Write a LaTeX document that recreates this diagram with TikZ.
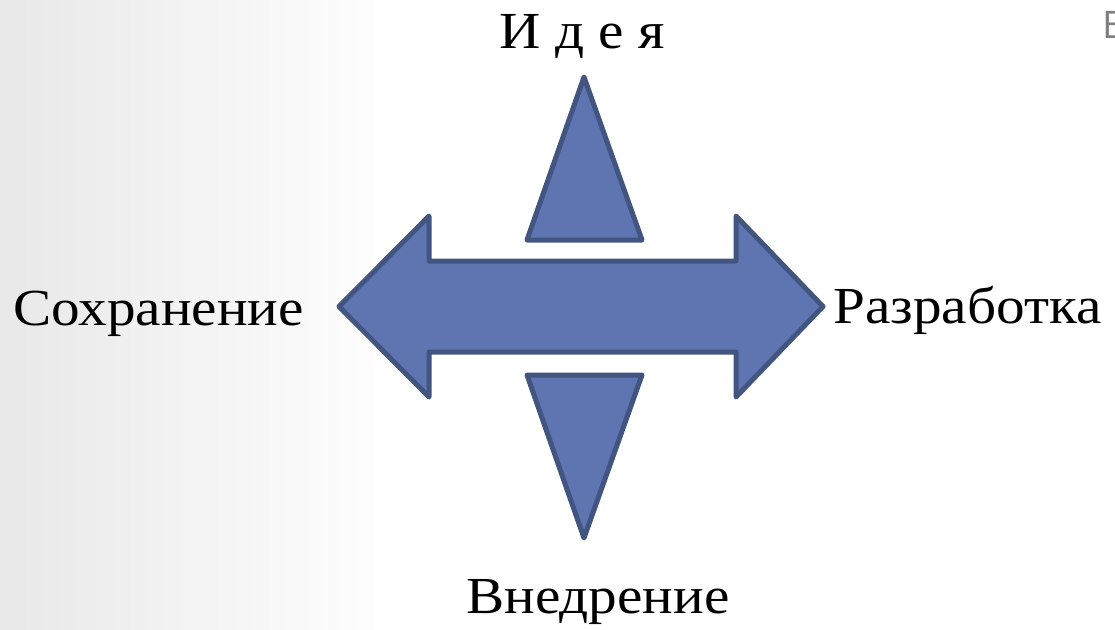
\documentclass[tikz,border=0pt]{standalone}
\usepackage{fontspec}
\setmainfont[FakeStretch=1.1]{Liberation Serif}
\newfontfamily\cornerfont{Open Sans}
\usepackage{xcolor}
\usepackage{tikz}
\usetikzlibrary{positioning, calc}

\definecolor{shapefill}{RGB}{95,117,178}
\definecolor{shapeline}{RGB}{66,85,128}

\begin{document}
\begin{tikzpicture}[
  x=0.5pt, y=0.5pt,
  bluefig/.style={fill=shapefill, draw=shapeline, line width=2.5pt, line join=round},
  word/.style={inner sep=0pt, font=\fontsize{26}{30}\selectfont, text=black},
]
  % background
  \useasboundingbox (0,0) rectangle (1115,629);
  \fill[white] (0,0) rectangle (1115,629);
  \shade[left color=black!9, right color=white] (0,0) rectangle (400,629);

  % horizontal double arrow
  \coordinate (ltip) at (339,322.5);
  \coordinate (rtip) at (823,322.5);
  \draw[bluefig] (ltip) -- (429,413) -- (429,368) -- (736,368) -- (736,413)
    -- (rtip) -- (736,232) -- (736,277) -- (429,277) -- (429,232) -- cycle;

  % triangles
  \coordinate (uptip) at (584,552);
  \coordinate (downtip) at (584,91);
  \draw[bluefig] (527,389) -- (uptip) -- (642,389) -- cycle;
  \draw[bluefig] (527,254) -- (642,254) -- (downtip) -- cycle;

  % labels
  \node[word, anchor=base] (idea) at (582,581) {И д е я};
  \node[word, anchor=base west] (keep) at (13,304) {Сохранение};
  \node[word, anchor=base west] (devel) at (833,306) {Разработка};
  \node[word, anchor=base] (impl) at (598,16) {Внедрение};
  \node[inner sep=0pt, anchor=base west, text=black!50,
        font=\cornerfont\fontsize{19}{22}\selectfont] (corner) at (1102,591) {В};
\end{tikzpicture}
\end{document}
